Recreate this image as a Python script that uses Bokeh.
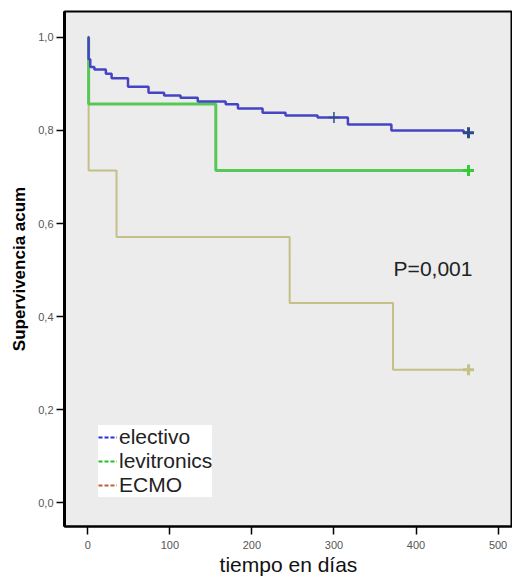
from bokeh.plotting import figure
from bokeh.models import (Range1d, FixedTicker, CustomJSTickFormatter,
                          Legend, LegendItem, Label)
from bokeh.embed import file_html
from bokeh.resources import INLINE

# ---- data ----
electivo_t = [0, 1, 3, 8, 22, 29, 49, 74, 93, 113, 134, 168, 183, 213, 241, 280, 317, 370, 458, 464]
electivo_s = [1.0, 0.953, 0.936, 0.931, 0.922, 0.912, 0.894, 0.881, 0.875, 0.870, 0.862,
              0.856, 0.847, 0.838, 0.832, 0.828, 0.8125, 0.800, 0.795, 0.795]
electivo_cens_t = [300, 464]
electivo_cens_s = [0.828, 0.795]

levitronics_t = [0, 1, 156, 464]
levitronics_s = [1.0, 0.857, 0.714, 0.714]
levitronics_cens_t = [464]
levitronics_cens_s = [0.714]

ecmo_t = [0, 1, 35, 246, 372, 464]
ecmo_s = [1.0, 0.714, 0.571, 0.429, 0.286, 0.286]
ecmo_cens_t = [464]
ecmo_cens_s = [0.286]

x_ticks = [0, 100, 200, 300, 400, 500]
y_ticks = [0.0, 0.2, 0.4, 0.6, 0.8, 1.0]
legend_labels = ["electivo", "levitronics", "ECMO"]
p_text = "P=0,001"
x_title = "tiempo en días"
y_title = "Supervivencia acum"

BLUE = "#4444c4"
GREEN = "#55c855"
KHAKI = "#c4c088"
NAN = float("nan")

p = figure(width=512, height=578, output_backend="svg", toolbar_location=None,
           x_range=Range1d(-28.4, 517.6), y_range=Range1d(-0.051, 1.0555),
           min_border_left=64, min_border_right=0, min_border_top=11, min_border_bottom=52)
p.background_fill_color = "#ececec"
p.border_fill_color = "white"
p.outline_line_color = "black"
p.outline_line_width = 2
p.grid.visible = False

# curves
p.step(ecmo_t, ecmo_s, mode="after", line_color=KHAKI, line_width=2)
p.step(levitronics_t, levitronics_s, mode="after", line_color=GREEN, line_width=3)
p.step(electivo_t, electivo_s, mode="after", line_color=BLUE, line_width=2.5)

p.scatter(ecmo_cens_t, ecmo_cens_s, marker="cross", size=11, line_width=3, color=KHAKI)
p.scatter(levitronics_cens_t, levitronics_cens_s, marker="cross", size=11, line_width=3, color="#33cc33")
p.scatter(electivo_cens_t[:1], electivo_cens_s[:1], marker="cross", size=11, line_width=1.5, color="#2c4a8c")
p.scatter(electivo_cens_t[1:], electivo_cens_s[1:], marker="cross", size=11, line_width=3, color="#2c4a8c")

# axes
fmt = CustomJSTickFormatter(code="return tick.toFixed(1).replace('.', ',');")
p.yaxis.ticker = FixedTicker(ticks=y_ticks)
p.yaxis.formatter = fmt
p.xaxis.ticker = FixedTicker(ticks=x_ticks)
for ax in (p.xaxis[0], p.yaxis[0]):
    ax.axis_line_color = "black"
    ax.major_tick_line_color = "black"
    ax.major_tick_line_width = 1.5
    ax.major_tick_in = 0
    ax.major_tick_out = 8
    ax.minor_tick_line_color = None
    ax.major_label_text_font = "Liberation Sans"
    ax.major_label_text_font_size = "11px"
    ax.major_label_text_color = "#555555"
    ax.major_label_standoff = 3
p.yaxis.axis_line_width = 3
p.xaxis.axis_line_width = 2
p.xaxis.major_label_standoff = 6
p.yaxis.axis_label = y_title
p.yaxis.axis_label_text_font = "Liberation Sans"
p.yaxis.axis_label_text_font_style = "bold"
p.yaxis.axis_label_text_font_size = "17px"
p.yaxis.axis_label_text_color = "black"
p.yaxis.axis_label_standoff = 6
p.xaxis.axis_label = x_title
p.xaxis.axis_label_text_font = "Liberation Sans"
p.xaxis.axis_label_text_font_style = "normal"
p.xaxis.axis_label_text_font_size = "21px"
p.xaxis.axis_label_text_color = "#111111"
p.xaxis.axis_label_standoff = 1

# legend (dashed samples as in the original)
leg_colors = ["#2a2ae0", "#22c022", "#c06030"]
items = []
for lab, col in zip(legend_labels, leg_colors):
    r = p.line(x=[NAN], y=[NAN], line_color=col, line_width=2, line_dash="4 2")
    items.append(LegendItem(label=lab, renderers=[r]))
legend = Legend(items=items, location=(34, 29), margin=0, padding=10, spacing=0,
                glyph_width=19, glyph_height=24, label_standoff=2, label_height=24,
                label_width=85,
                label_text_font="Liberation Sans", label_text_font_size="21px",
                label_text_color="#222222", background_fill_color="white",
                background_fill_alpha=1.0, border_line_color=None)
p.add_layout(legend, "center")

p.add_layout(Label(x=372.7, y=0.504, text=p_text, text_font="Liberation Sans",
                   text_font_size="21px", text_color="#222222",
                   text_baseline="alphabetic", text_align="left"))

open("out.html", "w").write(file_html(p, INLINE))
